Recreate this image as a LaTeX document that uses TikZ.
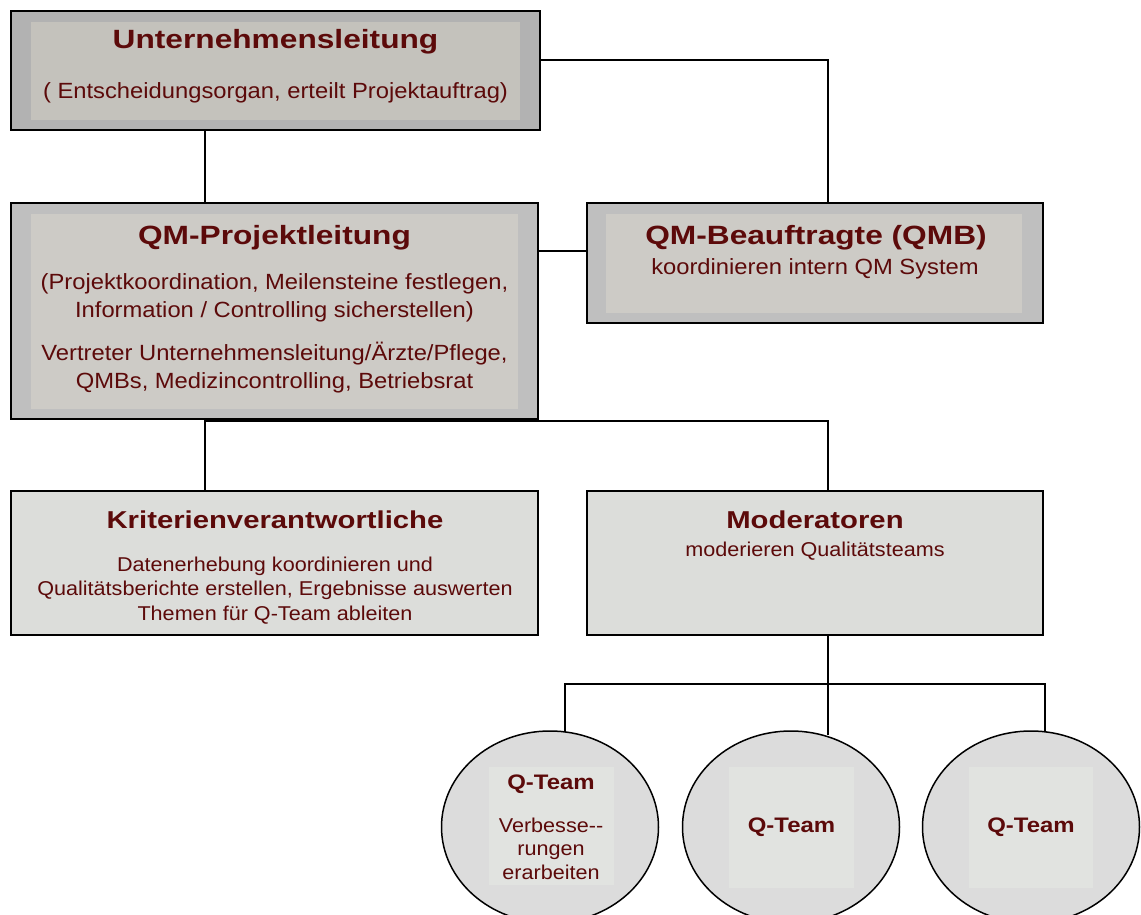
\documentclass[tikz,border=0pt]{standalone}
\usepackage{fontspec}
\setmainfont{Liberation Sans}[FakeStretch=1.08]
\newfontfamily\ttlfont{Liberation Sans}[FakeStretch=1.2]
\newfontfamily\qtfont{Liberation Sans}[FakeStretch=1.14]
\usetikzlibrary{shapes.geometric}
\definecolor{txt}{HTML}{5C0A0A}
\definecolor{outU}{HTML}{B2B2B2}
\definecolor{inU}{HTML}{C4C2BC}
\definecolor{outP}{HTML}{BFBFBF}
\definecolor{inP}{HTML}{CDCBC6}
\definecolor{light}{HTML}{DCDDDA}
\definecolor{ellf}{HTML}{DCDCDC}
\definecolor{ellin}{HTML}{E1E3E0}
\tikzset{
  box/.style={draw=black, line width=1.8pt, rectangle, inner sep=0pt},
  inbox/.style={rectangle, inner sep=0pt, draw=none},
  ttl/.style={anchor=base, text=txt, font=\ttlfont\fontsize{26.4}{30}\selectfont\bfseries, inner sep=0pt},
  ttlm/.style={anchor=base, text=txt, font=\ttlfont\fontsize{24.4}{28}\selectfont\bfseries, inner sep=0pt},
  bod/.style={anchor=base, text=txt, font=\fontsize{22}{26}\selectfont, inner sep=0pt},
  bods/.style={anchor=base, text=txt, font=\fontsize{20}{24}\selectfont, inner sep=0pt},
  qt/.style={anchor=base, text=txt, font=\qtfont\fontsize{21}{25}\selectfont\bfseries, inner sep=0pt},
  conn/.style={draw=black, line width=1.4pt},
  ell/.style={ellipse, draw=black, line width=1.5pt, fill=ellf, minimum width=217pt, minimum height=192pt, inner sep=0pt},
}
\begin{document}
\begin{tikzpicture}[x=1pt,y=-1pt]
\clip (0,0) rectangle (1141,915);
\fill[white] (0,0) rectangle (1141,915);
% coordinates for connector routes
\coordinate (c1) at (205,0);
\coordinate (c2) at (828,60);
\coordinate (c3) at (0,251);
\coordinate (c4) at (828,421);
\coordinate (c5) at (828,684);
\coordinate (t1) at (565,732);
\coordinate (t2) at (828,735);
\coordinate (t3) at (1045,732);
\coordinate (j1) at (565,684);
\coordinate (j3) at (1045,684);

% Unternehmensleitung
\node[box, fill=outU, minimum width=529pt, minimum height=119pt] (ul) at (275.5,70.5) {};
\node[inbox, fill=inU, minimum width=489pt, minimum height=98pt] (uli) at (275.5,71) {};
\node[ttl] (ult) at (275.5,49) {Unternehmensleitung};
\node[bod] (uls) at (275.5,99) {( Entscheidungsorgan, erteilt Projektauftrag)};

% QM-Projektleitung
\node[box, fill=outP, minimum width=527pt, minimum height=216pt] (pl) at (274.5,311) {};
\node[inbox, fill=inP, minimum width=487pt, minimum height=195pt] (pli) at (274.5,311.5) {};
\node[ttl] (plt) at (274.5,244) {QM-Projektleitung};
\node[bod] (pl1) at (274.5,289) {(Projektkoordination, Meilensteine festlegen,};
\node[bod] (pl2) at (274.5,317) {Information / Controlling sicherstellen)};
\node[bod] (pl3) at (274.5,360) {Vertreter Unternehmensleitung/Ärzte/Pflege,};
\node[bod] (pl4) at (274.5,388) {QMBs, Medizincontrolling, Betriebsrat};

% QMB
\node[box, fill=outP, minimum width=456pt, minimum height=120pt] (qmb) at (815,263) {};
\node[inbox, fill=inP, minimum width=416pt, minimum height=99pt] (qmbi) at (814,263.5) {};
\node[ttl] (qmbt) at (816,244) {QM-Beauftragte (QMB)};
\node[bod] (qmbs) at (815,274) {koordinieren intern QM System};

% Kriterienverantwortliche
\node[box, fill=light, minimum width=527pt, minimum height=144pt] (kr) at (274.5,563) {};
\node[ttlm] (krt) at (275,528) {Kriterienverantwortliche};
\node[bods] (kr1) at (275,571) {Datenerhebung koordinieren und};
\node[bods] (kr2) at (275,595.5) {Qualitätsberichte erstellen, Ergebnisse auswerten};
\node[bods] (kr3) at (275,620) {Themen für Q-Team ableiten};

% Moderatoren
\node[box, fill=light, minimum width=456pt, minimum height=144pt] (mo) at (815,563) {};
\node[ttlm] (mot) at (815,528) {Moderatoren};
\node[bods] (mos) at (815,556) {moderieren Qualitätsteams};

% Q-Teams
\node[ell] (e1) at (550,827) {};
\node[ell] (e2) at (791,827) {};
\node[ell] (e3) at (1031,827) {};
\node[inbox, fill=ellin, minimum width=125pt, minimum height=118pt] (e1i) at (551.5,826) {};
\node[inbox, fill=ellin, minimum width=125pt, minimum height=121pt] (e2i) at (791.5,827) {};
\node[inbox, fill=ellin, minimum width=124pt, minimum height=121pt] (e3i) at (1031,827) {};
\node[qt] (e1t) at (551,789) {Q-Team};
\node[bods] (e1a) at (551,832) {Verbesse-{}-};
\node[bods] (e1b) at (551,855.5) {rungen};
\node[bods] (e1c) at (551,879) {erarbeiten};
\node[qt] (e2t) at (791.5,832) {Q-Team};
\node[qt] (e3t) at (1031,832) {Q-Team};

% connectors
\draw[conn] (ul.south -| c1) -- (pl.north -| c1);
\draw[conn] (ul.east |- c2) -- (c2) -- (qmb.north -| c2);
\draw[conn] (pl.east |- c3) -- (qmb.west |- c3);
\draw[conn] (pl.south -| c1) -- (kr.north -| c1);
\draw[conn] (c1 |- c4) -- (c4) -- (mo.north -| c4);
\draw[conn] (mo.south -| c5) -- (t2);
\draw[conn] (t1) -- (j1) -- (j3) -- (t3);
\end{tikzpicture}
\end{document}
